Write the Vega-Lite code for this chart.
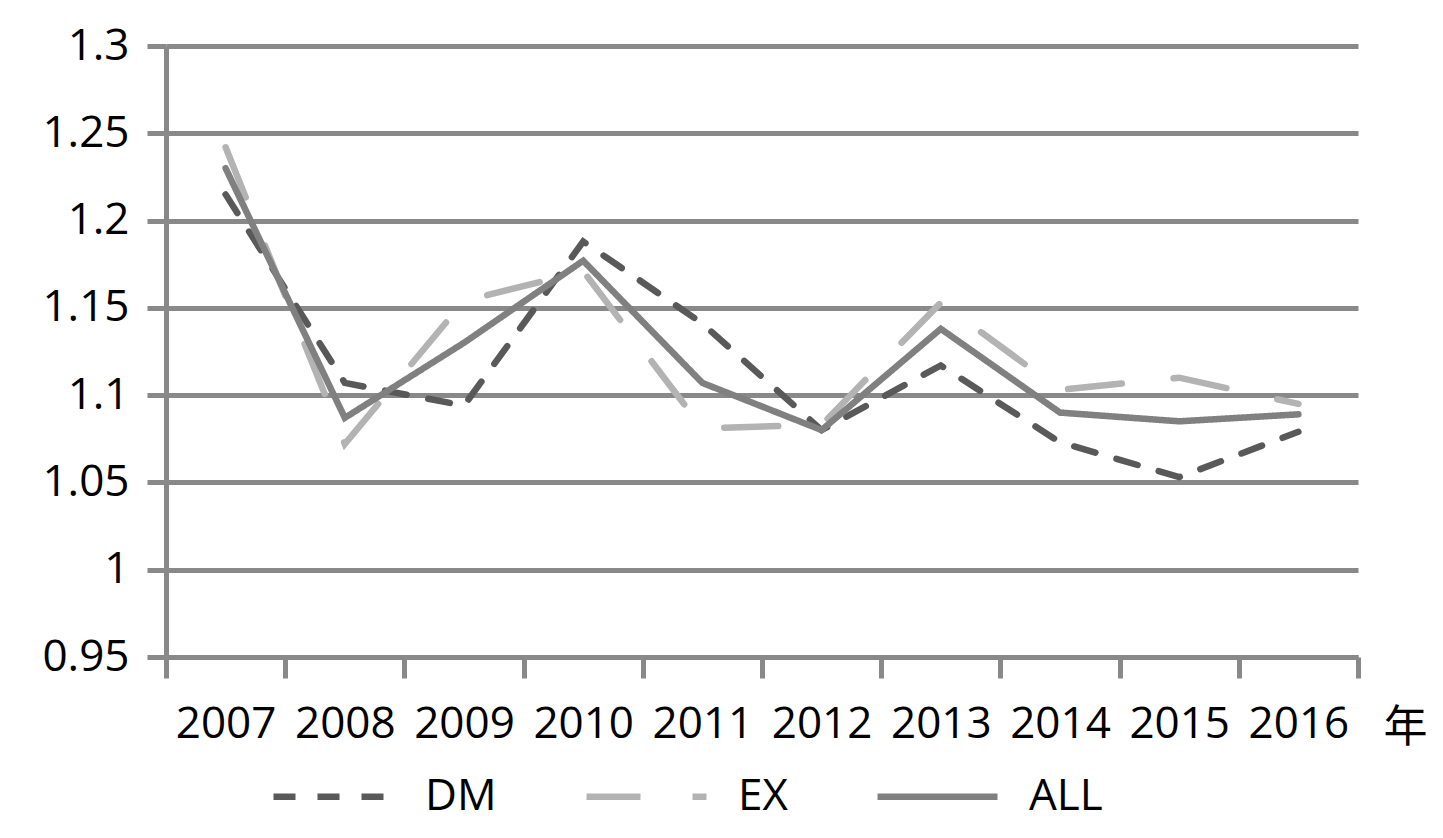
{
  "$schema": "https://vega.github.io/schema/vega-lite/v6.json",
  "width": 1192,
  "height": 611,
  "autosize": {"type": "none"},
  "padding": {"left": 166, "top": 46, "right": 85, "bottom": 181},
  "background": "white",
  "config": {"view": {"stroke": null}, "font": "Open Sans"},
  "data": {
    "values": [
      {"year": "2007", "series": "DM", "value": 1.215},
      {"year": "2008", "series": "DM", "value": 1.107},
      {"year": "2009", "series": "DM", "value": 1.094},
      {"year": "2010", "series": "DM", "value": 1.188},
      {"year": "2011", "series": "DM", "value": 1.141},
      {"year": "2012", "series": "DM", "value": 1.080},
      {"year": "2013", "series": "DM", "value": 1.117},
      {"year": "2014", "series": "DM", "value": 1.073},
      {"year": "2015", "series": "DM", "value": 1.053},
      {"year": "2016", "series": "DM", "value": 1.079},
      {"year": "2007", "series": "EX", "value": 1.242},
      {"year": "2008", "series": "EX", "value": 1.072},
      {"year": "2009", "series": "EX", "value": 1.154},
      {"year": "2010", "series": "EX", "value": 1.171},
      {"year": "2011", "series": "EX", "value": 1.081},
      {"year": "2012", "series": "EX", "value": 1.083},
      {"year": "2013", "series": "EX", "value": 1.153},
      {"year": "2014", "series": "EX", "value": 1.103},
      {"year": "2015", "series": "EX", "value": 1.110},
      {"year": "2016", "series": "EX", "value": 1.095},
      {"year": "2007", "series": "ALL", "value": 1.230},
      {"year": "2008", "series": "ALL", "value": 1.087},
      {"year": "2009", "series": "ALL", "value": 1.130},
      {"year": "2010", "series": "ALL", "value": 1.177},
      {"year": "2011", "series": "ALL", "value": 1.107},
      {"year": "2012", "series": "ALL", "value": 1.080},
      {"year": "2013", "series": "ALL", "value": 1.138},
      {"year": "2014", "series": "ALL", "value": 1.090},
      {"year": "2015", "series": "ALL", "value": 1.085},
      {"year": "2016", "series": "ALL", "value": 1.089}
    ]
  },
  "mark": {"type": "line", "strokeWidth": 6.5, "strokeCap": "round"},
  "encoding": {
    "x": {
      "field": "year",
      "type": "ordinal",
      "bandPosition": 0.5,
      "scale": {"type": "band", "paddingInner": 0, "paddingOuter": 0},
      "axis": {
        "title": "年",
        "labelAngle": 0,
        "tickBand": "extent",
        "tickSize": 21,
        "tickWidth": 5,
        "tickColor": "#898989",
        "domainColor": "#898989",
        "domainWidth": 5,
        "labelFontSize": 44,
        "labelPadding": 24,
        "labelColor": "black",
        "titleFont": "Noto Sans CJK SC",
        "titleFontSize": 44,
        "titleFontWeight": "normal",
        "titleColor": "black",
        "titleX": 1239,
        "titleY": 84,
        "titleAlign": "center",
        "titleBaseline": "alphabetic"
      }
    },
    "y": {
      "field": "value",
      "type": "quantitative",
      "scale": {"domain": [0.95, 1.3], "nice": false, "zero": false},
      "axis": {
        "title": null,
        "values": [0.95, 1, 1.05, 1.1, 1.15, 1.2, 1.25, 1.3],
        "format": ".2~f",
        "domainColor": "#898989",
        "domainWidth": 5,
        "tickSize": 19,
        "tickWidth": 5,
        "tickColor": "#898989",
        "grid": true,
        "gridColor": "#898989",
        "gridWidth": 5,
        "labelFontSize": 44,
        "labelPadding": 18,
        "labelColor": "black"
      }
    },
    "color": {
      "field": "series",
      "type": "nominal",
      "scale": {"domain": ["DM", "EX", "ALL"], "range": ["#595959", "#b3b3b3", "#808080"]},
      "legend": {
        "title": null,
        "orient": "none",
        "legendX": 104,
        "legendY": 687,
        "direction": "horizontal",
        "symbolType": "stroke",
        "symbolSize": 14400,
        "symbolStrokeWidth": 6.5,
        "labelFontSize": 44,
        "labelOffset": 28,
        "columnPadding": 76,
        "labelColor": "black"
      }
    },
    "strokeDash": {
      "field": "series",
      "type": "nominal",
      "scale": {"domain": ["DM", "EX", "ALL"], "range": [[22, 22], [54, 52], [1, 0]]},
      "legend": {
        "title": null,
        "orient": "none",
        "legendX": 104,
        "legendY": 687,
        "direction": "horizontal",
        "symbolType": "stroke",
        "symbolSize": 14400,
        "symbolStrokeWidth": 6.5,
        "labelFontSize": 44,
        "labelOffset": 28,
        "columnPadding": 76,
        "labelColor": "black"
      }
    }
  }
}
